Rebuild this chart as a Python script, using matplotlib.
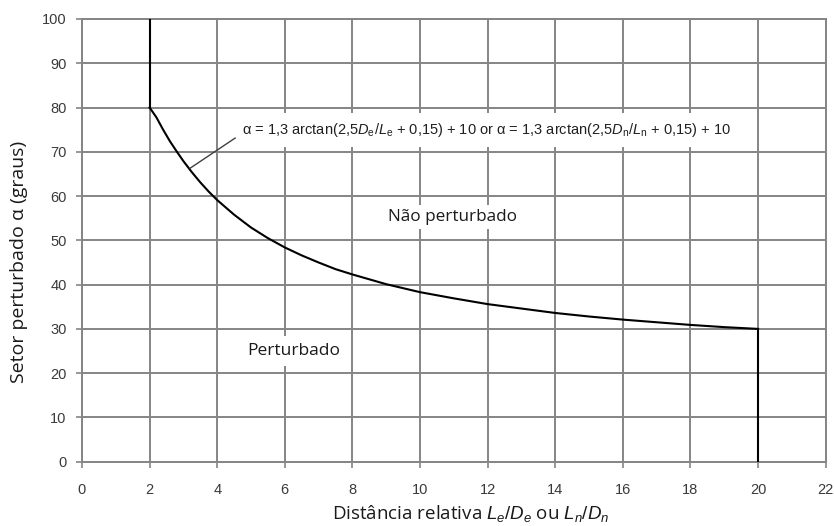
import matplotlib.pyplot as plt
import numpy as np

# relative distance L/D and disturbed sector angle (degrees)
dist = [2, 2.2, 2.4, 2.6, 2.8, 3, 3.25, 3.5, 3.75, 4, 4.5, 5, 5.5, 6, 6.5, 7, 7.5, 8,
        9, 10, 11, 12, 13, 14, 15, 16, 17, 18, 19, 20]
alpha = [80.0, 77.8, 75.0, 72.4, 70.1, 67.9, 65.4, 63.1, 61.0, 59.1, 55.8, 52.9, 50.5,
         48.4, 46.6, 45.0, 43.5, 42.3, 40.1, 38.3, 36.9, 35.6, 34.6, 33.6, 32.8, 32.1,
         31.5, 30.9, 30.4, 30.0]

xticks = np.arange(0, 23, 2)
yticks = np.arange(0, 101, 10)

grid_col = '#858585'
tick_col = '#3a3a3a'

plt.rcParams['mathtext.fontset'] = 'custom'
plt.rcParams['mathtext.rm'] = 'Liberation Sans'
plt.rcParams['mathtext.it'] = 'Liberation Sans:italic'

fig = plt.figure(figsize=(8.34, 5.26), dpi=100)
ax = fig.add_axes([0.0983, 0.1222, 0.8917, 0.8417])

ax.set_xlim(0, 22)
ax.set_ylim(0, 100)
ax.set_xticks(xticks)
ax.set_yticks(yticks)
ax.grid(True, color=grid_col, linewidth=1.4)
ax.set_axisbelow(True)
for s in ax.spines.values():
    s.set_color(grid_col)
    s.set_linewidth(1.4)
ax.tick_params(colors=grid_col, labelcolor=tick_col, length=4, width=1.2,
               labelsize=10.5)
ax.tick_params(axis='x', pad=11)
ax.tick_params(axis='y', pad=7)
for lab in ax.get_xticklabels() + ax.get_yticklabels():
    lab.set_family('Liberation Sans')

# boundary curve and the vertical limits
ax.plot(dist, alpha, color='black', linewidth=1.5, zorder=4)
ax.plot([dist[0], dist[0]], [alpha[0], 100], color='black', linewidth=1.5, zorder=4)
ax.plot([dist[-1], dist[-1]], [0, alpha[-1]], color='black', linewidth=1.5, zorder=4)

# formula label with leader line
ax.plot([3.2, 4.53], [66.3, 73.1], color='#404040', linewidth=1.0, zorder=4)
ax.text(4.72, 74.9,
        'α = 1,3 arctan(2,5$D_{\\rm e}$/$L_{\\rm e}$ + 0,15) + 10 or '
        'α = 1,3 arctan(2,5$D_{\\rm n}$/$L_{\\rm n}$ + 0,15) + 10',
        fontsize=10.5, family='Liberation Sans', color='#202020', va='center', ha='left',
        bbox=dict(facecolor='white', edgecolor='none', pad=6), zorder=3)

ax.text(10.95, 55.3, 'Não perturbado', fontsize=12.3, family='Open Sans',
        color='#1a1a1a', ha='center', va='center',
        bbox=dict(facecolor='white', edgecolor='none', pad=3), zorder=3)
ax.text(6.25, 25.0, 'Perturbado', fontsize=12.5, family='Open Sans',
        color='#1a1a1a', ha='center', va='center',
        bbox=dict(facecolor='white', edgecolor='none', pad=5), zorder=3)

ax.set_ylabel('Setor perturbado α (graus)', fontsize=14, family='Open Sans',
              color='#1a1a1a')
ax.yaxis.set_label_coords(-0.073, 0.451)
ax.set_xlabel(r'Distância relativa $L_e/D_e$ ou $L_n/D_n$', fontsize=13.5,
              family='Open Sans', color='#1a1a1a')
ax.xaxis.set_label_coords(0.523, -0.094)

fig.savefig('out.png', dpi=100)
